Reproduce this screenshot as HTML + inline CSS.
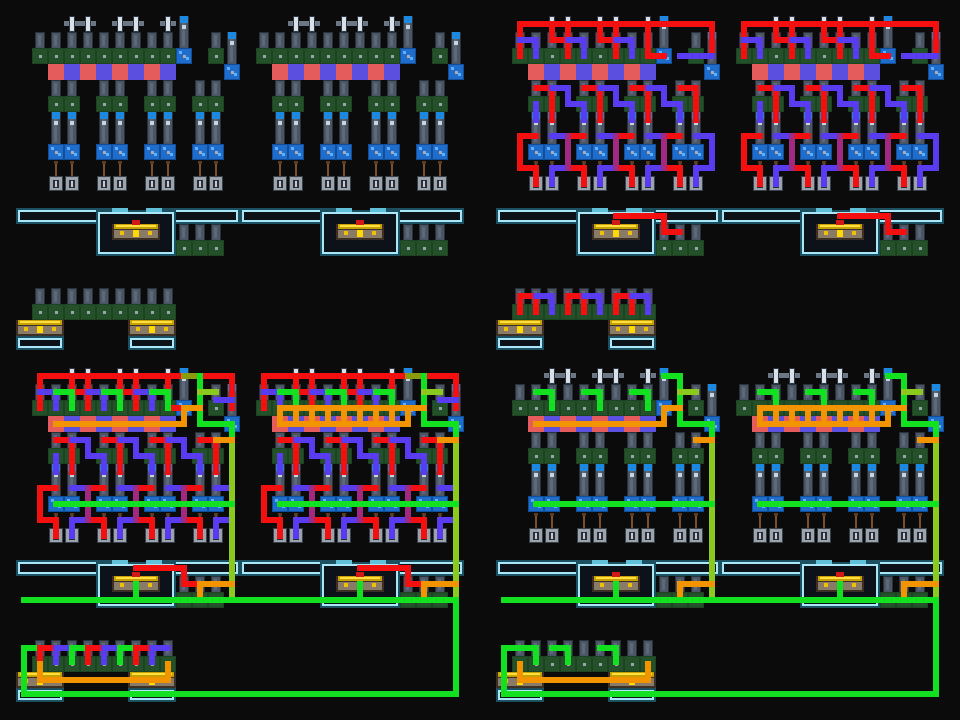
<!DOCTYPE html>
<html><head><meta charset="utf-8"><style>
html,body{margin:0;padding:0;background:#0b0b0b;width:960px;height:720px;overflow:hidden}
svg{display:block}
</style></head><body>
<svg id="s" width="960" height="720" viewBox="0 0 960 720" xmlns="http://www.w3.org/2000/svg" shape-rendering="crispEdges"><rect width="960" height="720" fill="#0b0b0b"/></svg>
<script>
var o=[];
function R(x,y,w,h,f,extra){o.push('<rect x="'+x+'" y="'+y+'" width="'+w+'" height="'+h+'" fill="'+f+'" '+(extra||'')+'/>');}
function green(x,y){R(x,y,16,16,'#1d4422');R(x+1,y+1,14,14,'#24502a');R(x+7,y+7,3,3,'#9aa6ad');}
function blue(x,y){R(x,y,16,16,'#0f4f9a');R(x+1,y+1,14,14,'#1f6ccb');R(x+3,y+3,3,3,'#5fb0ff');R(x+10,y+9,3,3,'#5fb0ff');R(x+7,y+7,3,3,'#aab');}
function pil(x,y,h){R(x+3,y,10,h,'#2a3038');R(x+4,y+1,8,h-1,'#4b5566');R(x+6,y+3,3,h-5,'#5d6878');}
function pilB(x,y,h){pil(x,y,h);R(x+4,y,8,7,'#1e88e0');R(x+6,y+9,4,4,'#c8d4e0');}
function lever(x,y){R(x+1,y,14,15,'#3a414a');R(x+2,y+1,12,13,'#9aa2ac');R(x+5,y+4,6,8,'#2a2e36');R(x+7,y+5,2,6,'#c8ccd2');}
function stick(x,y){R(x+7,y+2,2,14,'#7a5030');R(x+6,y+1,4,3,'#5a3a22');}
function deco(x,y){R(x,y+5,16,5,'#6c7884');R(x+5,y,6,16,'#2e3440');R(x+6,y+1,4,14,'#d8e0ea');}
function chest(x,y,w){R(x,y,w,16,'#3b2f26');R(x+2,y,w-4,5,'#c8a000');R(x+4,y+1,w-8,2,'#ffe040');R(x+2,y+6,w-4,8,'#8a7a68');R(x+w/2-3,y+6,6,7,'#ffd800');R(x+8,y+7,4,4,'#f0c000');R(x+w-12,y+7,4,4,'#f0c000');}
function bar(x,y,w,h){R(x,y,w,h,'#1c4f60');R(x+2,y+2,w-4,h-4,'#a8e8f8');R(x+4,y+4,w-8,h-8,'#0c1218');}
function base(ox,oy){
 [64,80,112,128,160].forEach(function(x){deco(ox+x,oy+16);});
 pilB(ox+176,oy+16,32);
 for(var i=0;i<9;i++){pil(ox+32+16*i,oy+32,16);green(ox+32+16*i,oy+48);}
 blue(ox+176,oy+48);
 pil(ox+208,oy+32,16);green(ox+208,oy+48);
 pilB(ox+224,oy+32,32);blue(ox+224,oy+64);
 for(var i=0;i<8;i++)R(ox+48+16*i,oy+64,16,16,i%2?'#5b4fe0':'#e45c5c');
 [48,64,96,112,144,160,192,208].forEach(function(x){
  pil(ox+x,oy+80,16);green(ox+x,oy+96);pilB(ox+x,oy+112,32);blue(ox+x,oy+144);stick(ox+x,oy+160);lever(ox+x,oy+176);});
 bar(ox+16,oy+208,96,16);bar(ox+160,oy+208,80,16);
 R(ox+96,oy+210,80,46,'#1c4f60');R(ox+98,oy+212,76,42,'#a8e8f8');R(ox+100,oy+214,72,38,'#0c1218');
 R(ox+112,oy+208,16,4,'#5fc0d8');R(ox+146,oy+208,16,4,'#5fc0d8');
 chest(ox+112,oy+224,48);R(ox+132,oy+220,8,5,'#d01818');
 [176,192,208].forEach(function(x){pil(ox+x,oy+224,16);green(ox+x,oy+240);});
}
function mid(ox,oy){
 for(var i=0;i<9;i++){pil(ox+32+16*i,oy+288,16);green(ox+32+16*i,oy+304);}
 chest(ox+16,oy+320,48);chest(ox+128,oy+320,48);
 bar(ox+16,oy+336,48,14);bar(ox+128,oy+336,48,14);
}
var C={r:'#f41010',p:'#5a3cf0',g:'#12e020',o:'#f29400',l:'#8cc81e',m:'#a02a80',ol:'#8c9a10'};
var wires=[];
function W(c,pts,ox,oy){var s='';for(var i=0;i<pts.length;i+=2)s+=(pts[i]+ox)+','+(pts[i+1]+oy)+' ';
 wires.push('<polyline points="'+s+'" fill="none" stroke="'+C[c]+'" stroke-width="6" stroke-linecap="square" stroke-linejoin="miter"/>');}
function midlow(ox,oy){
 for(var g=0;g<4;g++){var b=48*g;W('r',[56+b,88,72+b,88,72+b,120],ox,oy);
  if(g<3)W('p',[72+b,88,88+b,88,88+b,104,104+b,104,104+b,120],ox,oy);}
 W('p',[56,104,56,120],ox,oy);
 W('r',[56,136,40,136,40,168,56,168,56,184],ox,oy);
 for(var k=0;k<3;k++){var c=88+48*k;
  W('p',[c-16,136,c,136],ox,oy);W('r',[c,136,c+16,136],ox,oy);
  W('r',[c,168,c+16,168,c+16,184],ox,oy);W('p',[c,168,c-16,168,c-16,184],ox,oy);
  W('m',[c,136,c,168],ox,oy);}
 W('p',[216,136,232,136,232,168,216,168,216,184],ox,oy);
}
function topRP(ox,oy,grn){
 W('r',[40,24,232,24],ox,oy);W('r',[40,24,40,56],ox,oy);
 for(var k=0;k<2;k++){W('r',[72+48*k,24,72+48*k,40,88+48*k,40],ox,oy);W('r',[88+48*k,24,88+48*k,56],ox,oy);}
 W('r',[168,24,168,56,184,56],ox,oy);
 for(var k=0;k<3;k++){W('p',[40+48*k,40,56+48*k,40,56+48*k,56],ox,oy);
  if(grn)W('g',[56+48*k,40,72+48*k,40,72+48*k,56],ox,oy);}
 W('r',[232,24,232,56],ox,oy);
}
function tr(ox,oy){topRP(ox,oy,false);W('p',[200,56,232,56],ox,oy);midlow(ox,oy);
 W('r',[136,216,184,216,184,232,200,232],ox,oy);}
function ladder(ox,oy){W('o',[56,56,184,56],ox,oy);for(var i=0;i<9;i++)W('o',[56+16*i,56,56+16*i,72],ox,oy);}
function rightSide(ox,oy){
 W('g',[200,24,200,72,232,72,232,88],ox,oy);W('l',[200,40,216,40],ox,oy);
 W('l',[232,88,232,248],ox,oy);
 W('o',[56,72,184,72,184,56,200,56],ox,oy);W('o',[216,88,232,88],ox,oy);
 W('g',[56,152,232,152],ox,oy);W('g',[136,232,136,248],ox,oy);
 W('o',[232,232,200,232,200,248],ox,oy);
}
function bl(ox,oy,second){
 topRP(ox,oy,true);W('ol',[184,24,200,24],ox,oy);W('p',[216,48,232,48],ox,oy);
 midlow(ox,oy);
 W('r',[136,216,184,216,184,232,200,232],ox,oy);
 rightSide(ox,oy);if(second)ladder(ox,oy);
}
function br(ox,oy,second){
 for(var k=0;k<3;k++)W('g',[56+48*k,40,72+48*k,40,72+48*k,56],ox,oy);
 W('g',[184,24,200,24],ox,oy);
 rightSide(ox,oy);if(second)ladder(ox,oy);
}
// structures
[[0,0],[224,0],[480,0],[704,0],[0,352],[224,352],[480,352],[704,352]].forEach(function(p){base(p[0],p[1]);});
mid(0,0);mid(480,0);mid(0,352);mid(480,352);
// wires
tr(480,0);tr(704,0);
bl(0,352,false);bl(224,352,true);
br(480,352,false);br(704,352,true);
// middle right hooks
for(var k=0;k<3;k++){var b=48*k;W('r',[520+b,312,520+b,296,536+b,296,536+b,312],0,0);W('p',[536+b,296,552+b,296,552+b,312],0,0);}
// global greens
W('g',[24,600,456,600],0,0);W('g',[456,600,456,694,24,694,24,648],0,0);
W('g',[504,600,936,600],0,0);W('g',[936,600,936,694,504,694,504,648],0,0);
// bottom mini left
W('g',[24,648,40,648],0,0);
var seq=['r','p','g','r','p','g','r','p'];
for(var i=0;i<8;i++){var x=40+16*i;W(seq[i],[x,648,x+16,648],0,0);W(seq[i],[x,648,x,662],0,0);}
W('o',[40,664,40,680,168,680,168,664],0,0);
// bottom mini right
W('g',[504,648,520,648],0,0);
[[520,536],[552,568],[600,616]].forEach(function(a){W('g',[a[0],648,a[1],648,a[1],662],0,0);});
W('o',[520,664,520,680,648,680,648,664],0,0);
document.getElementById('s').insertAdjacentHTML('beforeend',o.join('')+wires.join(''));
</script>
</body></html>
